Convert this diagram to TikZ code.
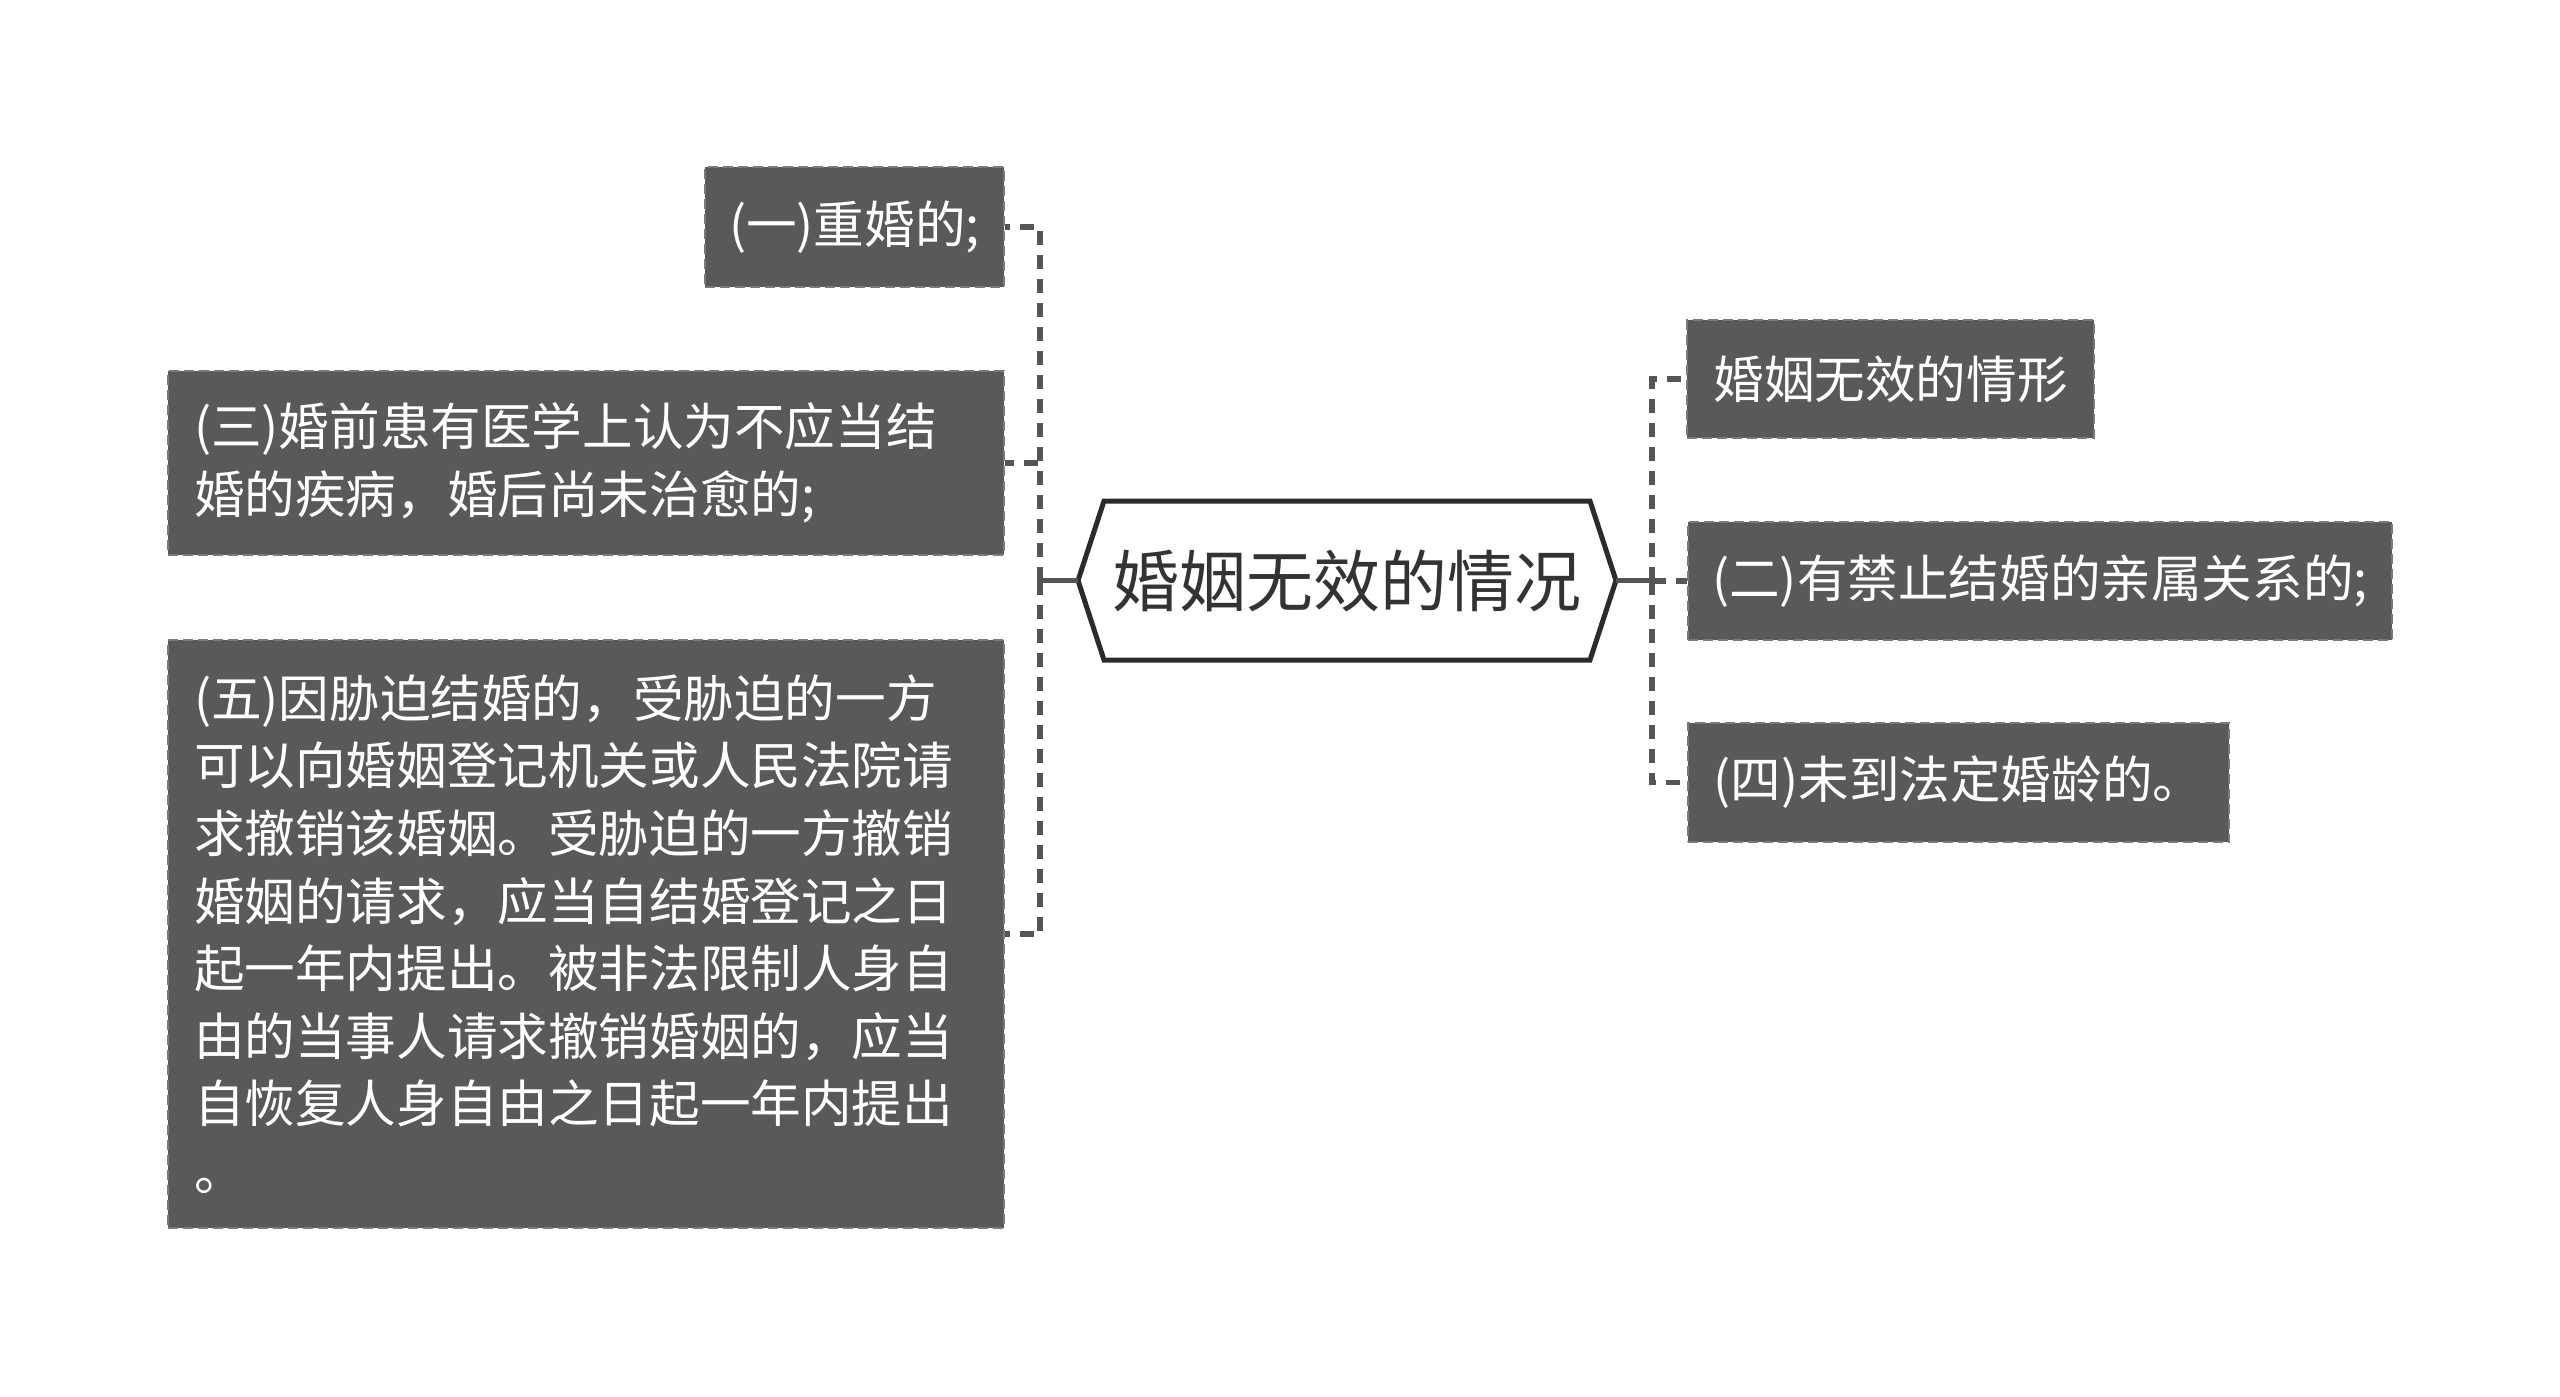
\documentclass[tikz,border=0pt]{standalone}
\usepackage{fontspec}
\newfontfamily\cjk{Noto Sans CJK SC}
\definecolor{boxfill}{HTML}{595959}
\definecolor{boxline}{HTML}{7A7A7A}
\definecolor{linkc}{HTML}{555555}
\definecolor{hexline}{HTML}{2B2B2B}
\definecolor{centertext}{HTML}{333333}
\tikzset{
  box/.style={draw=boxline, fill=boxfill, text=white, line width=1pt,
    dash pattern=on 5pt off 2.5pt, inner xsep=13pt, inner ysep=0pt,
    font=\cjk\fontsize{25.3pt}{33.8pt}\selectfont},
  multibox/.style={box, align=left},
  link/.style={draw=linkc, line width=2.6pt, dash pattern=on 7pt off 5pt},
  stem/.style={draw=linkc, line width=2.6pt},
  hexagon/.style={draw=hexline, fill=white, line width=2.5pt, line join=miter},
}
\begin{document}
\begin{tikzpicture}[x=0.5pt,y=-0.5pt]
\useasboundingbox (0,0) rectangle (2560,1397);
% central hexagon
\coordinate (hexL) at (1078,580.5);
\coordinate (hexR) at (1616,580.5);
\draw[hexagon] (hexL) -- (1104,501) -- (1590,501) -- (hexR) -- (1590,660) -- (1104,660) -- cycle;
\node[text=centertext, font=\cjk\fontsize{33.5pt}{40pt}\selectfont] (c) at (1347,580.5) {婚姻无效的情况};
% left boxes
\node[box, inner xsep=10pt, minimum width=149.5pt, minimum height=60pt] (b1) at (854.5,227) {(一)重婚的;};
\node[multibox, text width=392pt, minimum height=92pt] (b3) at (586,463) {(三)婚前患有医学上认为不应当结\\婚的疾病，婚后尚未治愈的;};
\node[multibox, text width=392pt, minimum height=294pt] (b5) at (586,934) {(五)因胁迫结婚的，受胁迫的一方\\可以向婚姻登记机关或人民法院请\\求撤销该婚姻。受胁迫的一方撤销\\婚姻的请求，应当自结婚登记之日\\起一年内提出。被非法限制人身自\\由的当事人请求撤销婚姻的，应当\\自恢复人身自由之日起一年内提出\\。};
% right boxes
\node[box, minimum width=202.5pt, minimum height=59pt] (r1) at (1890.5,379) {婚姻无效的情形};
\node[box, inner xsep=11pt, minimum width=352pt, minimum height=59pt] (r2) at (2040,581) {(二)有禁止结婚的亲属关系的;};
\node[box, minimum width=270.5pt, minimum height=59.5pt] (r3) at (1958.5,782.5) {(四)未到法定婚龄的。};
% spines
\coordinate (ls) at (1040,580.5);
\coordinate (rs) at (1652,580.5);
\draw[stem] (hexL) -- (ls);
\draw[stem] (hexR) -- (rs);
\draw[link] (ls) |- (b1.east);
\draw[link] (ls) |- (b3.east);
\draw[link] (ls) |- (b5.east);
\draw[link] (rs) |- (r1.west);
\draw[link] (rs) |- (r2.west);
\draw[link] (rs) |- (r3.west);
\end{tikzpicture}
\end{document}
